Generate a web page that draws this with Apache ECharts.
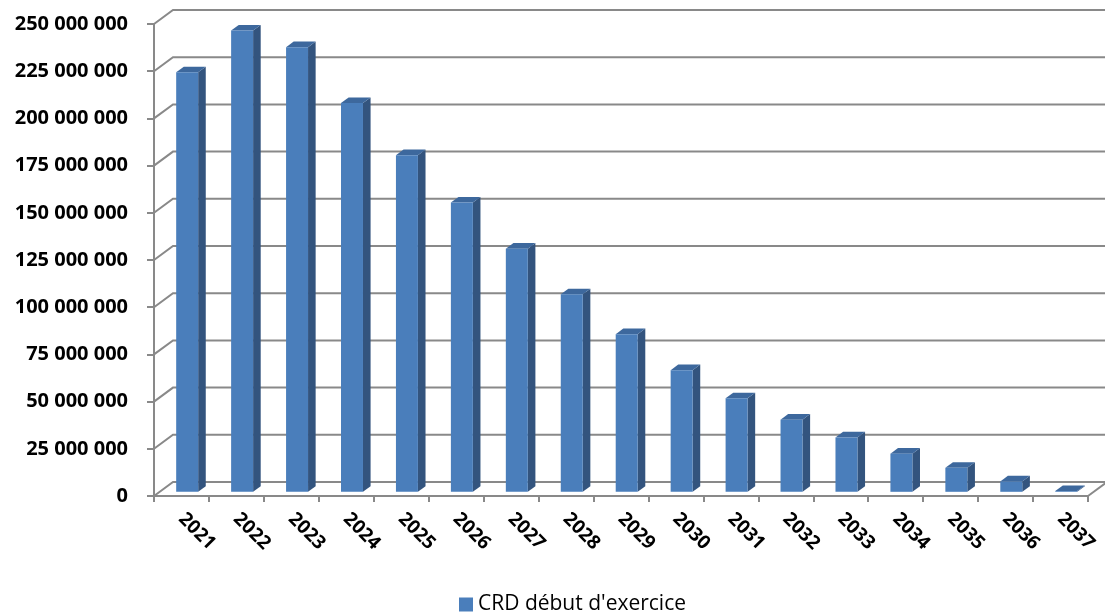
<!DOCTYPE html>
<html>
<head>
<meta charset="utf-8">
<title>CRD début d'exercice</title>
<script src="https://cdn.jsdelivr.net/npm/echarts@6/dist/echarts.min.js"></script>
<style>
  html, body { margin: 0; padding: 0; background: #ffffff; }
  #chart { width: 1105px; height: 615px; }
</style>
</head>
<body>
<div id="chart"></div>
<script>
// Years of the schedule
const categories = ['2021', '2022', '2023', '2024', '2025', '2026', '2027', '2028', '2029',
                    '2030', '2031', '2032', '2033', '2034', '2035', '2036', '2037'];
// Capital restant dû at the start of each year
const crdValues = [222200000, 244300000, 235500000, 205900000, 178300000, 153200000, 128800000,
                   104600000, 83500000, 64400000, 49500000, 38200000, 28800000, 20200000,
                   12700000, 5500000, 400000];
// Value-axis ticks
const yTicks = [0, 25000000, 50000000, 75000000, 100000000, 125000000, 150000000,
                175000000, 200000000, 225000000, 250000000];
const seriesName = "CRD début d'exercice";

// Pseudo-3D geometry (pixels): depth of the floor/wall, bar placement in depth
const DEPTH_X = 19, DEPTH_Y = 14;
const BAR_FRONT = 0.3, BAR_DEPTH = 0.4, BAR_WIDTH = 0.4;
const GRID_COLOR = '#898989';
const FACE = '#4A7EBB', SIDE = '#33547E', TOP = '#3D689D';

const fmt = v => String(Math.round(v)).replace(/\B(?=(\d{3})+(?!\d))/g, ' ');

const chart = echarts.init(document.getElementById('chart'), null, { renderer: 'canvas' });

chart.setOption({
  animation: false,
  backgroundColor: '#ffffff',
  textStyle: { fontFamily: '"Open Sans", "Liberation Sans", sans-serif' },
  grid: { left: 154, right: 17, top: 24, bottom: 119, containLabel: false },
  legend: {
    left: 459, top: 594, padding: 0,
    itemWidth: 14, itemHeight: 14, itemGap: 10,
    textStyle: { fontSize: 21, color: '#000', fontFamily: '"Open Sans", sans-serif' },
    data: [{ name: seriesName, icon: 'rect' }]
  },
  xAxis: {
    type: 'category',
    data: categories,
    boundaryGap: true,
    axisLine: { lineStyle: { color: GRID_COLOR, width: 2 } },
    axisTick: { show: true, alignWithLabel: false, length: 6, lineStyle: { color: GRID_COLOR, width: 2 } },
    axisLabel: { rotate: -45, margin: 20, fontSize: 19, fontWeight: 'bold', color: '#000', interval: 0 },
    splitLine: { show: false }
  },
  yAxis: {
    type: 'value',
    min: 0, max: yTicks[yTicks.length - 1], interval: yTicks[1] - yTicks[0],
    axisLine: { show: true, lineStyle: { color: GRID_COLOR, width: 2 } },
    axisTick: { show: true, length: 7, lineStyle: { color: GRID_COLOR, width: 2 } },
    axisLabel: { margin: 26, fontSize: 20, fontWeight: 'bold', color: '#000', formatter: fmt },
    splitLine: { show: false }
  },
  series: [
    {
      // side wall diagonals, back-wall gridlines and floor edge
      type: 'custom',
      silent: true,
      z: 1,
      data: yTicks.map(v => [0, v]),
      renderItem: function (params, api) {
        const cs = params.coordSys;
        const y = api.coord([0, api.value(1)])[1];
        const left = cs.x, right = cs.x + cs.width;
        const children = [{
          type: 'polyline',
          shape: { points: [[left, y], [left + DEPTH_X, y - DEPTH_Y], [right + DEPTH_X, y - DEPTH_Y]] },
          style: { stroke: GRID_COLOR, lineWidth: 2, fill: null }
        }];
        if (api.value(1) === 0) {
          children.push({
            type: 'line',
            shape: { x1: right, y1: y, x2: right + DEPTH_X, y2: y - DEPTH_Y },
            style: { stroke: GRID_COLOR, lineWidth: 2 }
          });
        }
        return { type: 'group', children: children };
      }
    },
    {
      name: seriesName,
      type: 'custom',
      z: 3,
      itemStyle: { color: FACE },
      data: crdValues.map((v, i) => [i, v]),
      renderItem: function (params, api) {
        const idx = api.value(0);
        const base = api.coord([idx, 0]);
        const top = api.coord([idx, api.value(1)]);
        const bw = api.size([1, 0])[0] * BAR_WIDTH;
        const fx = DEPTH_X * BAR_FRONT, fy = DEPTH_Y * BAR_FRONT;
        const dx = DEPTH_X * BAR_DEPTH, dy = DEPTH_Y * BAR_DEPTH;
        const x0 = base[0] + fx - bw / 2, x1 = x0 + bw;
        const yb = base[1] - fy, yt = top[1] - fy;
        return {
          type: 'group',
          children: [
            {
              type: 'polygon',
              shape: { points: [[x1, yb], [x1, yt], [x1 + dx, yt - dy], [x1 + dx, yb - dy]] },
              style: { fill: SIDE }
            },
            {
              type: 'polygon',
              shape: { points: [[x0, yt], [x1, yt], [x1 + dx, yt - dy], [x0 + dx, yt - dy]] },
              style: { fill: TOP }
            },
            {
              type: 'rect',
              shape: { x: x0, y: yt, width: bw, height: Math.max(yb - yt, 0) },
              style: { fill: FACE }
            }
          ]
        };
      }
    }
  ]
});
</script>
</body>
</html>
